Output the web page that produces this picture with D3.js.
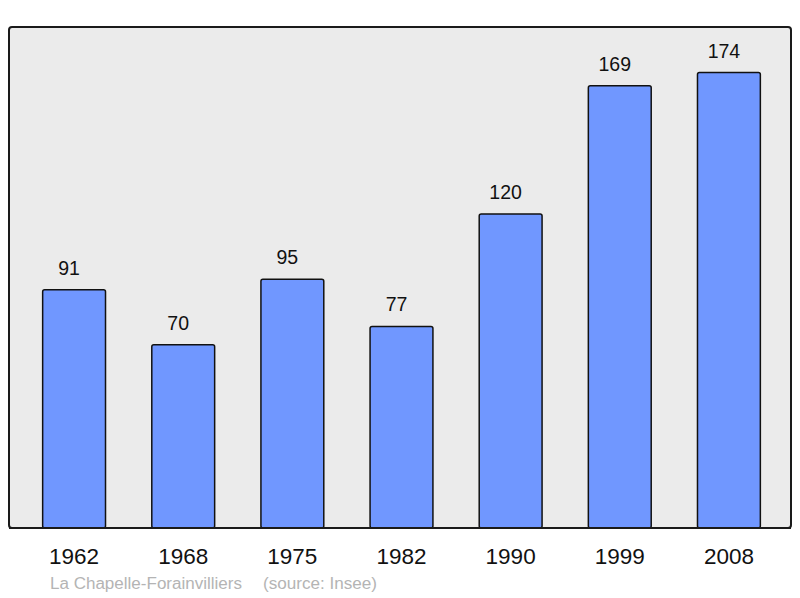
<!DOCTYPE html>
<html>
<head>
<meta charset="utf-8">
<script src="https://cdn.jsdelivr.net/npm/d3@7"></script>
<style>
  body { margin: 0; background: #fff; }
  text { font-family: "Liberation Sans", Arial, sans-serif; }
</style>
</head>
<body>
<div id="chart"></div>
<script>
// Population data
const years = ["1962", "1968", "1975", "1982", "1990", "1999", "2008"];
const population = [91, 70, 95, 77, 120, 169, 174];
const placeName = "La Chapelle-Forainvilliers";
const sourceName = "(source: Insee)";

const W = 800, H = 598;
const frame = { left: 9, top: 27, right: 791, bottom: 528 };

const svg = d3.select("#chart").append("svg")
    .attr("width", W)
    .attr("height", H);

// Background frame
svg.append("rect")
    .attr("x", frame.left)
    .attr("y", frame.top)
    .attr("width", frame.right - frame.left)
    .attr("height", frame.bottom - frame.top)
    .attr("rx", 3)
    .style("fill", "#ebebeb")
    .style("stroke", "#1a1a1a")
    .style("stroke-width", 2);

const x = d3.scaleBand()
    .domain(years)
    .range([frame.left + 2, frame.right + 1])
    .paddingInner(0.424)
    .paddingOuter(0.29);

const y = d3.scaleLinear()
    .domain([0, d3.max(population) * 1.1])
    .range([frame.bottom, frame.top]);

const data = years.map((yr, i) => ({ year: yr, value: population[i] }));

svg.selectAll(".bar")
    .data(data)
    .enter().append("rect")
    .attr("class", "bar")
    .attr("x", d => x(d.year))
    .attr("y", d => y(d.value))
    .attr("width", x.bandwidth())
    .attr("height", d => y(0) - y(d.value))
    .attr("rx", 2)
    .style("fill", "#7097ff")
    .style("stroke", "#111")
    .style("stroke-width", 1.5);

// Redraw bottom frame line over bars
svg.append("line")
    .attr("x1", frame.left)
    .attr("x2", frame.right)
    .attr("y1", frame.bottom)
    .attr("y2", frame.bottom)
    .style("stroke", "#1a1a1a")
    .style("stroke-width", 2);

// Value labels (sit slightly left of bar centre, as in the original)
svg.selectAll(".val")
    .data(data)
    .enter().append("text")
    .attr("class", "val")
    .attr("x", d => x(d.year) + x.bandwidth() / 2 - 5)
    .attr("y", d => y(d.value) - 15)
    .attr("text-anchor", "middle")
    .style("font-size", "19.5px")
    .style("fill", "#111")
    .text(d => d.value);

// Year labels
svg.selectAll(".year")
    .data(data)
    .enter().append("text")
    .attr("class", "year")
    .attr("x", d => x(d.year) + x.bandwidth() / 2)
    .attr("y", 564)
    .attr("text-anchor", "middle")
    .style("font-size", "22.5px")
    .style("fill", "#111")
    .text(d => d.year);

// Source
svg.append("text")
    .attr("x", 50)
    .attr("y", 589)
    .attr("textLength", 192)
    .attr("lengthAdjust", "spacingAndGlyphs")
    .style("font-size", "16px")
    .style("fill", "#b4b4b4")
    .text(placeName);

svg.append("text")
    .attr("x", 263)
    .attr("y", 589)
    .attr("textLength", 114)
    .attr("lengthAdjust", "spacingAndGlyphs")
    .style("font-size", "16px")
    .style("fill", "#b4b4b4")
    .text(sourceName);
</script>
</body>
</html>
